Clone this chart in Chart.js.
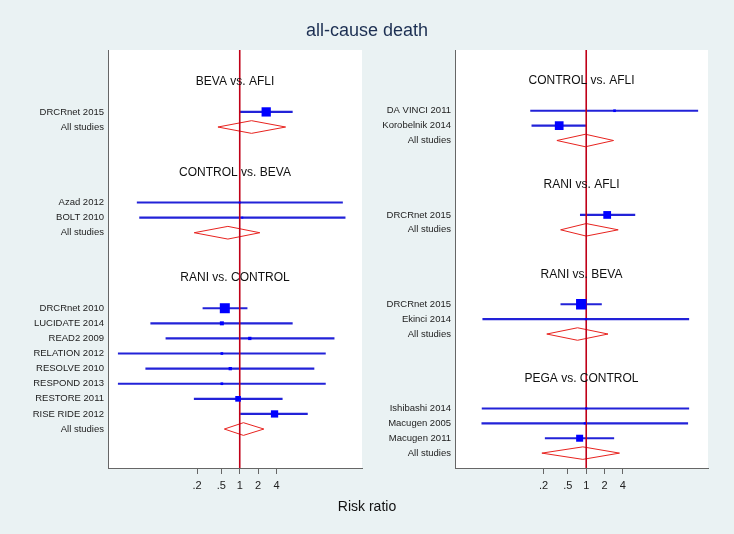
<!DOCTYPE html>
<html>
<head>
<meta charset="utf-8">
<script src="https://cdn.jsdelivr.net/npm/chart.js@4.4.1/dist/chart.umd.min.js"></script>
<style>
  body { margin: 0; background: #eaf2f3; }
  #wrap { position: relative; width: 734px; height: 534px; }
  canvas { position: absolute; left: 0; top: 0; }
</style>
</head>
<body>
<div id="wrap">
  <canvas id="leftChart" width="734" height="534"></canvas>
  <canvas id="rightChart" width="734" height="534"></canvas>
</div>
<script>
const titleText = 'all-cause death';
const axisTitle = 'Risk ratio';
const tickValues = [0.2, 0.5, 1, 2, 4];
const tickLabels = ['.2', '.5', '1', '2', '4'];
const xMin = 0.007;
const xMax = 100;

// left panel
const leftGroups = ['BEVA vs. AFLI', 'CONTROL vs. BEVA', 'RANI vs. CONTROL'];
const leftStudies = ['DRCRnet 2015', 'Azad 2012', 'BOLT 2010', 'DRCRnet 2010', 'LUCIDATE 2014', 'READ2 2009',
  'RELATION 2012', 'RESOLVE 2010', 'RESPOND 2013', 'RESTORE 2011', 'RISE RIDE 2012'];
const leftStudyGroup = [0, 1, 1, 2, 2, 2, 2, 2, 2, 2, 2];
const leftRR = [2.71, 1.00, 1.10, 0.57, 0.51, 1.46, 0.51, 0.70, 0.51, 0.94, 3.71];
const leftLow = [1.00, 0.021, 0.023, 0.25, 0.035, 0.062, 0.0103, 0.029, 0.0103, 0.18, 1.03];
const leftHigh = [7.25, 48.0, 53.0, 1.32, 7.25, 35.0, 25.2, 16.4, 25.2, 4.96, 12.8];
const leftWeight = [86, 4, 4, 100, 16, 11, 7, 11, 7, 32, 53];
const leftPooledRR = [1.56, 0.64, 1.15];
const leftPooledLow = [0.44, 0.18, 0.56];
const leftPooledHigh = [5.63, 2.13, 2.48];

// right panel
const rightGroups = ['CONTROL vs. AFLI', 'RANI vs. AFLI', 'RANI vs. BEVA', 'PEGA vs. CONTROL'];
const rightStudies = ['DA VINCI 2011', 'Korobelnik 2014', 'DRCRnet 2015', 'DRCRnet 2015', 'Ekinci 2014',
  'Ishibashi 2014', 'Macugen 2005', 'Macugen 2011'];
const rightStudyGroup = [0, 0, 1, 2, 2, 3, 3, 3];
const rightRR = [2.92, 0.36, 2.21, 0.83, 0.99, 1.00, 0.95, 0.78];
const rightLow = [0.122, 0.128, 0.80, 0.383, 0.020, 0.0195, 0.0193, 0.212];
const rightHigh = [68, 1.00, 6.3, 1.78, 48.4, 48.4, 46.5, 2.84];
const rightWeight = [7, 76, 60, 110, 5, 5, 5, 49];
const rightPooledRR = [0.97, 1.00, 0.72, 0.88];
const rightPooledLow = [0.33, 0.38, 0.225, 0.187];
const rightPooledHigh = [2.81, 3.35, 2.28, 3.52];

const FONT = 'Liberation Sans, Arial, sans-serif';
const DIAMOND_HALF = 0.42;

// header, blank, studies, "All studies", then two blank rows
function layoutRows(groups, studyGroup) {
    const headerRows = [], studyRows = [], pooledRows = [];
    let r = 0;
    groups.forEach((g, gi) => {
        headerRows.push(r);
        r += 2;
        studyGroup.forEach((sg, si) => {
            if (sg === gi) { studyRows[si] = r; r++; }
        });
        pooledRows.push(r);
        r += 3;
    });
    return { headerRows, studyRows, pooledRows };
}

function makePanel(canvasId, p, box) {
    const rows = layoutRows(p.groups, p.studyGroup);
    const labelAt = {};
    rows.studyRows.forEach((r, i) => labelAt[r] = p.studies[i]);
    rows.pooledRows.forEach(r => labelAt[r] = 'All studies');
    const labelRows = Object.keys(labelAt).map(Number);

    const datasets = [];
    // boxes
    datasets.push({
        type: 'scatter', order: 0,
        data: p.rr.map((v, i) => ({ x: v, y: rows.studyRows[i] })),
        pointStyle: 'rect',
        pointRadius: p.weight.map(w => Math.sqrt(w) / 1.414),
        pointBackgroundColor: '#0000ff',
        pointBorderWidth: 0
    });
    // reference line at RR = 1
    datasets.push({
        type: 'line', order: 1, showLine: true,
        data: [{ x: 1, y: box.yMin }, { x: 1, y: box.yMax }],
        borderColor: '#c00018', borderWidth: 1.6, pointRadius: 0
    });
    // confidence intervals as floating bars
    datasets.push({
        type: 'bar', indexAxis: 'y', order: 2,
        data: p.low.map((v, i) => ({ x: [v, p.high[i]], y: rows.studyRows[i] })),
        backgroundColor: '#2222d8', barThickness: 1.5, borderWidth: 0
    });
    // pooled diamonds
    p.pooledRR.forEach((v, i) => {
        const r = rows.pooledRows[i];
        datasets.push({
            type: 'line', order: 3, showLine: true,
            data: [
                { x: p.pooledLow[i], y: r },
                { x: v, y: r - DIAMOND_HALF },
                { x: p.pooledHigh[i], y: r },
                { x: v, y: r + DIAMOND_HALF },
                { x: p.pooledLow[i], y: r }
            ],
            borderColor: '#e8231f', borderWidth: 1, pointRadius: 0, tension: 0
        });
    });

    const panelText = {
        id: 'panelText',
        beforeDraw(chart) {
            const a = chart.chartArea;
            chart.ctx.save();
            chart.ctx.fillStyle = '#ffffff';
            chart.ctx.fillRect(a.left, a.top, a.right - a.left, a.bottom - a.top);
            chart.ctx.restore();
        },
        afterDatasetsDraw(chart) {
            const ctx = chart.ctx;
            const a = chart.chartArea;
            const y = chart.scales.y;
            ctx.save();
            ctx.fillStyle = '#111';
            ctx.font = '12px ' + FONT;
            ctx.textAlign = 'center';
            ctx.textBaseline = 'middle';
            p.groups.forEach((g, i) => {
                ctx.fillText(g, (a.left + a.right) / 2, y.getPixelForValue(rows.headerRows[i]));
            });
            if (box.figureText) {
                ctx.fillStyle = '#1c2f52';
                ctx.font = '18px ' + FONT;
                ctx.fillText(titleText, 367, 31);
                ctx.fillStyle = '#111';
                ctx.font = '14px ' + FONT;
                ctx.fillText(axisTitle, 367, 507);
            }
            ctx.restore();
        }
    };

    return new Chart(document.getElementById(canvasId), {
        type: 'scatter',
        data: { datasets },
        plugins: [panelText],
        options: {
            responsive: false,
            animation: false,
            layout: { padding: { left: box.padLeft, right: box.padRight, top: 50, bottom: 0 } },
            plugins: { legend: { display: false }, tooltip: { enabled: false } },
            scales: {
                x: {
                    type: 'logarithmic', min: xMin, max: xMax, bounds: 'data', offset: false,
                    grid: { display: true, offset: false, drawOnChartArea: false, drawTicks: true, tickLength: 6, color: '#666' },
                    border: { display: true, color: '#666', width: 1 },
                    afterBuildTicks: s => { s.ticks = tickValues.map(v => ({ value: v })); },
                    afterFit: s => { s.height = 66; },
                    ticks: {
                        autoSkip: false, maxRotation: 0, padding: 5, color: '#222',
                        font: { family: FONT, size: 11 },
                        callback: v => tickLabels[tickValues.indexOf(v)]
                    }
                },
                y: {
                    type: 'linear', reverse: true, min: box.yMin, max: box.yMax, bounds: 'data',
                    offset: false, beginAtZero: false,
                    grid: { display: false, drawTicks: false },
                    border: { display: true, color: '#666', width: 1 },
                    afterBuildTicks: s => { s.ticks = labelRows.map(v => ({ value: v })); },
                    afterFit: s => { s.width = box.axisWidth; },
                    ticks: {
                        autoSkip: false, padding: 4, color: '#222',
                        font: { family: FONT, size: 9.5 },
                        callback: v => labelAt[v]
                    }
                }
            }
        }
    });
}

makePanel('leftChart', {
    groups: leftGroups, studies: leftStudies, studyGroup: leftStudyGroup,
    rr: leftRR, low: leftLow, high: leftHigh, weight: leftWeight,
    pooledRR: leftPooledRR, pooledLow: leftPooledLow, pooledHigh: leftPooledHigh
}, { padLeft: 0, padRight: 372, axisWidth: 108, yMin: -2.1, yMax: 25.58, figureText: true });

makePanel('rightChart', {
    groups: rightGroups, studies: rightStudies, studyGroup: rightStudyGroup,
    rr: rightRR, low: rightLow, high: rightHigh, weight: rightWeight,
    pooledRR: rightPooledRR, pooledLow: rightPooledLow, pooledHigh: rightPooledHigh
}, { padLeft: 355, padRight: 26, axisWidth: 100, yMin: -2.08, yMax: 26.0, figureText: false });
</script>
</body>
</html>
